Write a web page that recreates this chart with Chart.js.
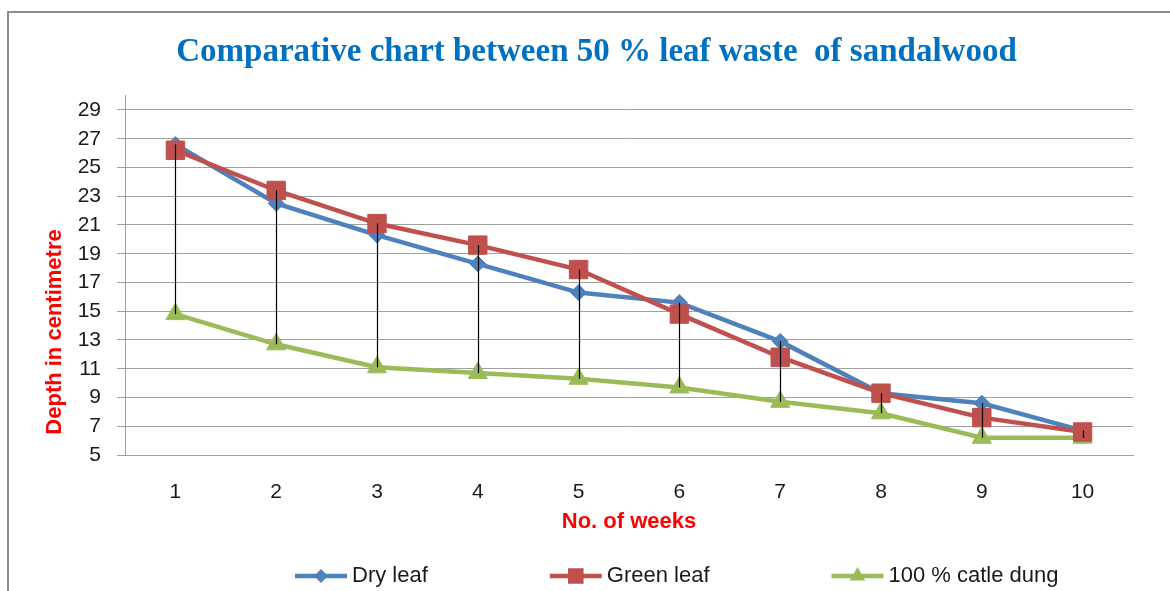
<!DOCTYPE html>
<html>
<head>
<meta charset="utf-8">
<script src="https://cdn.jsdelivr.net/npm/chart.js@4.4.1/dist/chart.umd.min.js"></script>
<style>
    html, body { margin: 0; padding: 0; background: #fff; overflow: hidden; }
    #wrap { position: relative; width: 1170px; height: 591px; }
    #frame { position: absolute; left: 7px; top: 11px; width: 1300px; height: 700px; border: 2px solid #8c8c8c; }
    #chart { position: absolute; left: 0; top: 0; }
</style>
</head>
<body>
<div id="wrap">
    <div id="frame"></div>
    <canvas id="chart" width="1170" height="591"></canvas>
</div>
<script>
// Data
const weeks = ['1', '2', '3', '4', '5', '6', '7', '8', '9', '10'];
const dryLeaf = [26.6, 22.5, 20.3, 18.3, 16.3, 15.6, 12.9, 9.3, 8.6, 6.7];
const greenLeaf = [26.2, 23.4, 21.1, 19.6, 17.9, 14.8, 11.8, 9.3, 7.6, 6.6];
const cattleDung = [14.8, 12.7, 11.1, 10.7, 10.3, 9.7, 8.7, 7.9, 6.2, 6.2];
const yTicks = [5, 7, 9, 11, 13, 15, 17, 19, 21, 23, 25, 27, 29];

Chart.defaults.font.family = '"Liberation Sans", Arial, sans-serif';
Chart.defaults.color = '#1a1a1a';

// black high-low lines between the highest and lowest series at each week
const hiLoLines = {
    id: 'hiLoLines',
    afterDatasetsDraw(chart) {
        const ctx = chart.ctx;
        const xs = chart.scales.x, ys = chart.scales.y;
        const sets = chart.data.datasets;
        ctx.save();
        ctx.strokeStyle = '#000';
        ctx.lineWidth = 1.2;
        chart.data.labels.forEach(function(l, i) {
            const vals = sets.map(function(d) { return d.data[i]; });
            const x = Math.round(xs.getPixelForValue(i)) + 0.5;
            ctx.beginPath();
            ctx.moveTo(x, ys.getPixelForValue(Math.max.apply(null, vals)));
            ctx.lineTo(x, ys.getPixelForValue(Math.min.apply(null, vals)));
            ctx.stroke();
        });
        ctx.restore();
    }
};

// y axis title, sits lower than the plot centre like the original
const yTitle = {
    id: 'yTitle',
    afterDraw(chart) {
        const ctx = chart.ctx;
        ctx.save();
        ctx.translate(55, 332);
        ctx.rotate(-Math.PI / 2);
        ctx.font = 'bold 22px "Liberation Sans", Arial, sans-serif';
        ctx.fillStyle = '#ff0000';
        ctx.textAlign = 'center';
        ctx.textBaseline = 'middle';
        ctx.fillText('Depth in centimetre', 0, 0);
        ctx.restore();
    }
};

// legend: line with marker in the middle, wide gaps like the original
const lineLegend = {
    id: 'lineLegend',
    afterDraw(chart) {
        const ctx = chart.ctx;
        const y = chart.scales.x.bottom + 31;
        let x = 295;
        ctx.save();
        ctx.font = '22px "Liberation Sans", Arial, sans-serif';
        ctx.textBaseline = 'middle';
        ctx.textAlign = 'left';
        chart.data.datasets.forEach(function(ds) {
            ctx.strokeStyle = ds.borderColor;
            ctx.lineWidth = 4.5;
            ctx.beginPath();
            ctx.moveTo(x, y);
            ctx.lineTo(x + 52, y);
            ctx.stroke();
            ctx.fillStyle = ds.borderColor;
            Chart.helpers.drawPoint(ctx, {
                pointStyle: ds.pointStyle,
                radius: ds.legendRadius,
                rotation: 0,
                borderWidth: 0
            }, x + 26, y);
            ctx.fillStyle = '#1a1a1a';
            ctx.fillText(ds.label, x + 57, y);
            x += 57 + ctx.measureText(ds.label).width + 122;
        });
        ctx.restore();
    }
};

const chartCtx = document.getElementById('chart');
new Chart(chartCtx, {
    type: 'line',
    data: {
        labels: weeks,
        datasets: [
            {
                label: 'Dry leaf',
                data: dryLeaf,
                borderColor: '#4f81bd',
                backgroundColor: '#4f81bd',
                pointBackgroundColor: '#4f81bd',
                pointBorderColor: '#4f81bd',
                pointStyle: 'rectRot',
                pointRadius: 8,
                pointBorderWidth: 1,
                borderWidth: 4.5,
                tension: 0,
                order: 2,
                legendRadius: 7
            },
            {
                label: 'Green leaf',
                data: greenLeaf,
                borderColor: '#c0504d',
                backgroundColor: '#c0504d',
                pointBackgroundColor: '#c0504d',
                pointBorderColor: '#c0504d',
                pointStyle: 'rect',
                pointRadius: 13,
                pointBorderWidth: 1,
                borderWidth: 4.5,
                tension: 0,
                order: 1,
                legendRadius: 11
            },
            {
                label: '100 % catle dung',
                data: cattleDung,
                borderColor: '#9bbb59',
                backgroundColor: '#9bbb59',
                pointBackgroundColor: '#9bbb59',
                pointBorderColor: '#9bbb59',
                pointStyle: 'triangle',
                pointRadius: 11,
                pointBorderWidth: 1,
                borderWidth: 4.5,
                tension: 0,
                order: 3,
                legendRadius: 9
            }
        ]
    },
    options: {
        responsive: false,
        animation: false,
        layout: {
            padding: { left: 60, right: 37, top: 0, bottom: 46 }
        },
        plugins: {
            legend: { display: false },
            tooltip: { enabled: false },
            title: {
                display: true,
                text: 'Comparative chart between 50 % leaf waste  of sandalwood',
                color: '#0070c0',
                font: { family: '"Liberation Serif", "Times New Roman", serif', size: 33, weight: 'bold' },
                padding: { top: 33, bottom: 23 }
            }
        },
        scales: {
            x: {
                offset: true,
                grid: { display: false, drawTicks: false },
                border: { display: true, color: '#a0a0a0', width: 1 },
                ticks: { font: { size: 21 }, padding: 25, color: '#1a1a1a' },
                title: {
                    display: true,
                    text: 'No. of weeks',
                    color: '#ff0000',
                    font: { size: 22, weight: 'bold' },
                    padding: { top: 0, bottom: 10 }
                },
                afterFit: function(scale) { scale.height = 90; }
            },
            y: {
                min: 5,
                max: 30,
                afterBuildTicks: function(scale) {
                    scale.ticks = yTicks.map(function(v) { return { value: v }; });
                },
                grid: { color: '#a0a0a0', lineWidth: 1, tickLength: 8 },
                border: { display: true, color: '#a0a0a0', width: 1 },
                ticks: { font: { size: 21 }, padding: 16, color: '#1a1a1a' },
                afterFit: function(scale) { scale.width = 65; }
            }
        }
    },
    plugins: [hiLoLines, yTitle, lineLegend]
});
</script>
</body>
</html>
